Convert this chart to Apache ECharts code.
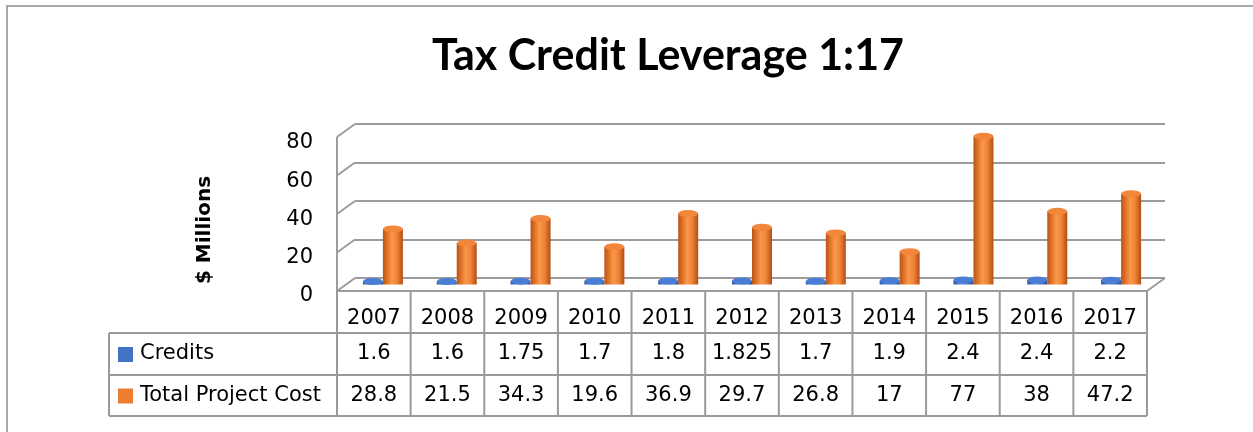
<!DOCTYPE html>
<html><head><meta charset="utf-8">
<script src="https://cdn.jsdelivr.net/npm/echarts@6/dist/echarts.min.js"></script>
<style>html,body{margin:0;padding:0;background:#fff}#c{width:1253px;height:432px}</style>
</head><body><div id="c"></div>
<script>
// ---- data ----
const categories = ['2007','2008','2009','2010','2011','2012','2013','2014','2015','2016','2017'];
const credits = [1.6, 1.6, 1.75, 1.7, 1.8, 1.825, 1.7, 1.9, 2.4, 2.4, 2.2];
const totalCost = [28.8, 21.5, 34.3, 19.6, 36.9, 29.7, 26.8, 17, 77, 38, 47.2];
const seriesNames = ['Credits', 'Total Project Cost'];
const yTicks = [0, 20, 40, 60, 80];
const titleText = 'Tax Credit Leverage 1:17';
const yAxisTitle = '$ Millions';

// ---- style ----
const TITLE_FONT = 'Lato, "Open Sans", sans-serif';
const FONT = '"DejaVu Sans", sans-serif';
const colors = ['#4472C4', '#ED7D31'];
const GRID_COLOR = '#9c9c9c';
const BACK = {left: 355, top: 124, width: 810, height: 154};
const FRONT = {left: 337, top: 137, width: 810, height: 154};
const MID = {left: 346, top: 130.5, width: 812, height: 154};
const LABELS = {left: 337, top: 143, width: 810, height: 153};
const yMin = yTicks[0], yMax = yTicks[yTicks.length - 1], yStep = yTicks[1] - yTicks[0];

function grad(stops) {
  return {type: 'linear', x: 0, y: 0, x2: 1, y2: 0,
    colorStops: stops.map(s => ({offset: s[0], color: s[1]}))};
}
const barFills = [
  grad([[0,'#2c559c'],[0.4,'#5a8ee0'],[0.6,'#4f82d6'],[1,'#2a4f90']]),
  grad([[0,'#b9531a'],[0.18,'#dc6c22'],[0.45,'#f9994b'],[0.7,'#f08337'],[1,'#b24f14']])
];
const capFills = ['#4a7dd4', '#f2863a'];

const chart = echarts.init(document.getElementById('c'), null, {renderer: 'canvas'});

function hiddenX(i) {
  return {type: 'category', gridIndex: i, data: categories, show: false, boundaryGap: true};
}

chart.setOption({
  animation: false,
  backgroundColor: '#fff',
  title: {
    text: titleText, left: 663, textAlign: 'center', top: 30,
    textStyle: {fontFamily: TITLE_FONT, fontWeight: 'bold', fontSize: 43, color: '#000'}
  },
  grid: [
    Object.assign({containLabel: false}, BACK),
    Object.assign({containLabel: false}, FRONT),
    Object.assign({containLabel: false}, MID),
    Object.assign({containLabel: false}, LABELS)
  ],
  xAxis: [
    hiddenX(0),
    {type: 'category', gridIndex: 1, data: categories, boundaryGap: true,
     axisLine: {show: false}, axisTick: {show: false}, splitLine: {show: false},
     axisLabel: {margin: 17, fontFamily: FONT, fontSize: 21, color: '#000', interval: 0}},
    hiddenX(2),
    hiddenX(3)
  ],
  yAxis: [
    {type: 'value', gridIndex: 0, min: yMin, max: yMax, interval: yStep,
     axisLine: {show: false}, axisTick: {show: false}, axisLabel: {show: false},
     splitLine: {show: true, lineStyle: {color: GRID_COLOR, width: 2}}},
    {type: 'value', gridIndex: 1, min: yMin, max: yMax, interval: yStep, show: false},
    {type: 'value', gridIndex: 2, min: yMin, max: yMax, interval: yStep, show: false},
    {type: 'value', gridIndex: 3, min: yMin, max: yMax, interval: yStep,
     axisLine: {show: false}, axisTick: {show: false}, splitLine: {show: false},
     axisLabel: {margin: 24, fontFamily: FONT, fontSize: 21, color: '#000'}}
  ],
  series: [
    {name: seriesNames[0], type: 'bar', xAxisIndex: 2, yAxisIndex: 2, data: credits,
     barWidth: 20, barGap: '0%', itemStyle: {color: barFills[0]}, z: 3},
    {name: seriesNames[1], type: 'bar', xAxisIndex: 2, yAxisIndex: 2, data: totalCost,
     barWidth: 20, barGap: '0%', itemStyle: {color: barFills[1]}, z: 3},
    {name: seriesNames[0] + ' cap', type: 'pictorialBar', xAxisIndex: 2, yAxisIndex: 2, data: credits,
     barWidth: 20, barGap: '0%', symbol: 'circle', symbolSize: [20, 7], symbolPosition: 'end',
     symbolOffset: [0, '-50%'], itemStyle: {color: capFills[0]}, z: 4},
    {name: seriesNames[1] + ' cap', type: 'pictorialBar', xAxisIndex: 2, yAxisIndex: 2, data: totalCost,
     barWidth: 20, barGap: '0%', symbol: 'circle', symbolSize: [20, 7], symbolPosition: 'end',
     symbolOffset: [0, '-50%'], itemStyle: {color: capFills[1]}, z: 4}
  ]
});

// ---- 3D frame + data table built from axis positions ----
const G = [];
const line = (x1, y1, x2, y2, w, c) => G.push({type: 'line', silent: true, z: 1,
  shape: {x1, y1, x2, y2}, style: {stroke: c || GRID_COLOR, lineWidth: w || 2}});
const text = (t, x, y, align, opts) => G.push({type: 'text', silent: true, z: 5,
  style: Object.assign({text: t, x, y, align, verticalAlign: 'middle', textAlign: align, textVerticalAlign: 'middle',
    font: '21px ' + FONT, fill: '#000'}, opts || {})});

const yB = v => chart.convertToPixel({yAxisIndex: 0}, v);
const yF = v => chart.convertToPixel({yAxisIndex: 1}, v);
const xF = i => chart.convertToPixel({xAxisIndex: 1}, i);
const band = xF(1) - xF(0);
const frontL = xF(0) - band / 2, frontR = xF(categories.length - 1) + band / 2;
const backL = BACK.left, backR = BACK.left + BACK.width;

// left wall diagonals
yTicks.forEach(v => line(frontL, yF(v), backL, yB(v)));
// left wall vertical
line(frontL, yF(yMax), frontL, yF(yMin));
// floor front edge & right edge
line(frontL, yF(yMin), frontR, yF(yMin));
line(frontR, yF(yMin), backR, yB(yMin));

// y-axis title (rotated)
G.push({type: 'text', silent: true, z: 5, x: 205, y: 230, rotation: Math.PI / 2,
  style: {text: yAxisTitle, x: 0, y: 0, align: 'center', verticalAlign: 'middle',
    textAlign: 'center', textVerticalAlign: 'middle', font: 'bold 20px ' + FONT, fill: '#000'}});

// table geometry
const rowTop = yF(yMin);
const rowH = 42;
const r1 = rowTop + 42, r2 = r1 + rowH, r3 = r2 + rowH - 1;
const legL = 109;
const TC = '#9a9a9a';
for (let i = 0; i <= categories.length; i++) {
  const x = frontL + i * band;
  line(x, rowTop, x, r3, 2, TC);
}
line(legL, r1, frontR, r1, 2, TC);
line(legL, r2, frontR, r2, 2, TC);
line(legL, r3, frontR, r3, 2, TC);
line(legL, r1, legL, r3, 2, TC);

const rowsData = [credits, totalCost];
rowsData.forEach((arr, r) => {
  const cy = (r === 0 ? (r1 + r2) / 2 : (r2 + r3) / 2);
  G.push({type: 'rect', silent: true, z: 5, shape: {x: legL + 9, y: cy - 7, width: 15, height: 15},
    style: {fill: colors[r]}});
  text(seriesNames[r], legL + 31, cy, 'left');
  arr.forEach((v, i) => text(String(v), xF(i), cy, 'center'));
});

// outer chart border (top and left visible)
line(6, 6, 1253, 6, 2, '#a9a9a9');
line(7, 6, 7, 432, 2, '#a9a9a9');

chart.setOption({graphic: G});
</script></body></html>
